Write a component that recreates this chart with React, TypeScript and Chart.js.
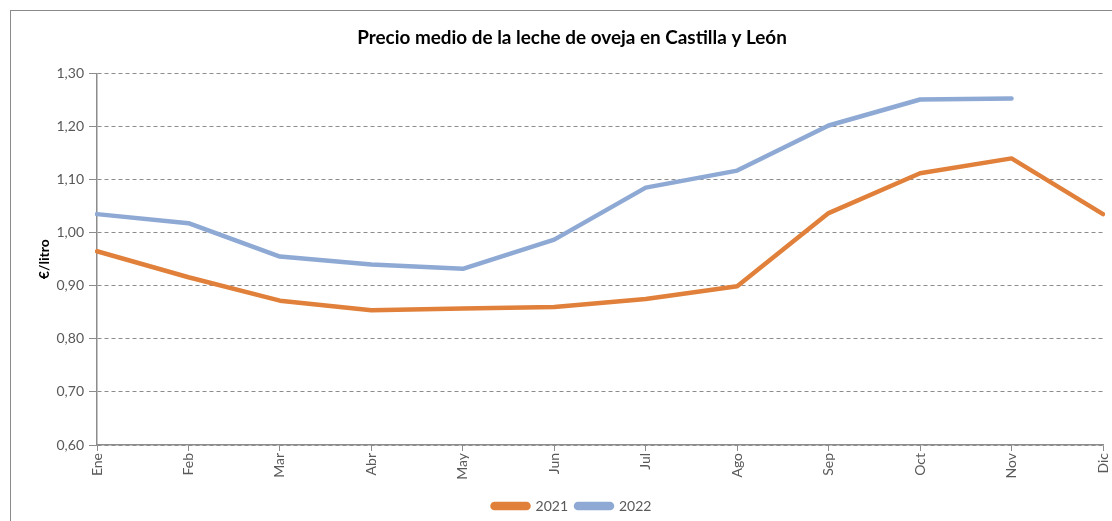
import React, { useEffect, useRef } from "react";
import { Chart, registerables } from "chart.js";

Chart.register(...registerables);

const meses = ["Ene", "Feb", "Mar", "Abr", "May", "Jun", "Jul", "Ago", "Sep", "Oct", "Nov", "Dic"];
const precio2021 = [0.965, 0.916, 0.872, 0.854, 0.857, 0.860, 0.875, 0.899, 1.037, 1.112, 1.140, 1.035];
const precio2022 = [1.035, 1.018, 0.955, 0.940, 0.932, 0.987, 1.085, 1.117, 1.202, 1.251, 1.253, null];
const serieNombres = ["2021", "2022"];
const titulo = "Precio medio de la leche de oveja en Castilla y León";
const ejeY = "€/litro";

const FONT = "Lato, 'Open Sans', sans-serif";
const GRAY = "#8c8c8c";

export default function App() {
  const ref = useRef<HTMLCanvasElement | null>(null);

  useEffect(() => {
    if (!ref.current) return;
    const chart = new Chart(ref.current, {
      type: "line",
      data: {
        labels: meses,
        datasets: [
          {
            label: serieNombres[0],
            data: precio2021,
            borderColor: "#E0803A",
            backgroundColor: "#E0803A",
            borderWidth: 4.5,
            pointRadius: 0,
            tension: 0,
            borderCapStyle: "round",
            borderJoinStyle: "round",
          },
          {
            label: serieNombres[1],
            data: precio2022,
            borderColor: "#8EA9D4",
            backgroundColor: "#8EA9D4",
            borderWidth: 4.5,
            pointRadius: 0,
            tension: 0,
            borderCapStyle: "round",
            borderJoinStyle: "round",
          },
        ],
      },
      options: {
        responsive: false,
        animation: false,
        layout: { padding: { top: 20, left: 32, right: 0, bottom: -2 } },
        plugins: {
          title: {
            display: true,
            text: titulo,
            color: "#000",
            font: { family: FONT, size: 18.9, weight: "bold" },
            padding: { top: 6.9, bottom: 23.9 },
          },
          legend: {
            position: "bottom",
            labels: {
              boxWidth: 36,
              boxHeight: 4,
              useBorderRadius: true,
              borderRadius: 2,
              padding: 8,
              color: "#595959",
              font: { family: FONT, size: 14 },
            },
          },
          tooltip: { enabled: false },
        },
        scales: {
          x: {
            type: "category",
            offset: false,
            afterFit: (s: any) => {
              s.height = 46;
              s.paddingLeft = 0;
              s.paddingRight = 9;
            },
            grid: {
              offset: false,
              drawOnChartArea: false,
              drawTicks: true,
              tickLength: 6,
              color: GRAY,
              tickColor: GRAY,
            },
            border: { display: true, color: GRAY, width: 1.5 },
            ticks: {
              autoSkip: false,
              minRotation: 90,
              maxRotation: 90,
              padding: 2,
              color: "#595959",
              font: { family: FONT, size: 14 },
            },
          },
          y: {
            min: 0.6,
            max: 1.3,
            afterFit: (s: any) => {
              s.width = 65;
            },
            title: {
              display: true,
              text: ejeY,
              color: "#000",
              font: { family: FONT, size: 14, weight: "bold" },
              padding: { top: 4, bottom: 0 },
            },
            grid: {
              color: GRAY,
              lineWidth: 1,
              drawTicks: true,
              tickLength: 8,
              tickColor: GRAY,
              tickBorderDash: [],
            },
            border: { display: true, color: GRAY, width: 1.5, dash: [4, 3] },
            ticks: {
              stepSize: 0.1,
              padding: 5,
              color: "#595959",
              font: { family: FONT, size: 14 },
              callback: (v: any) => Number(v).toFixed(2).replace(".", ","),
            },
          },
        },
      },
    });
    return () => chart.destroy();
  }, []);

  return (
    <div
      style={{
        position: "fixed",
        left: 0,
        top: 0,
        width: 1112,
        height: 521,
        overflow: "hidden",
        background: "#fff",
      }}
    >
      <div
        style={{
          position: "absolute",
          left: 10,
          top: 10,
          width: 1300,
          height: 700,
          border: "1.5px solid #8a8a8a",
        }}
      />
      <canvas ref={ref} width={1112} height={521} style={{ position: "absolute", left: 0, top: 0 }} />
    </div>
  );
}
